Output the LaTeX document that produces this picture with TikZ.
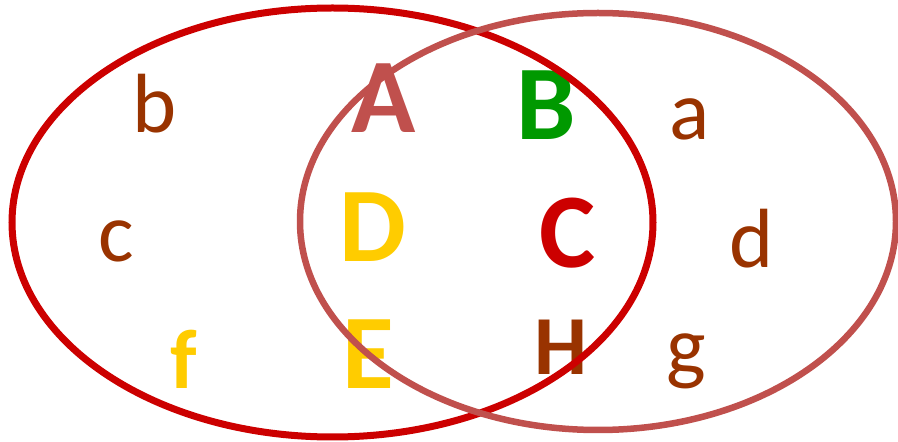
\documentclass[tikz,border=0pt]{standalone}
\usepackage{fontspec}
\setmainfont{Carlito}
\usepackage{xcolor}
\definecolor{setred}{HTML}{CC0000}
\definecolor{setrose}{HTML}{C0504D}
\definecolor{elbrown}{HTML}{993300}
\definecolor{elgreen}{HTML}{009900}
\definecolor{elyellow}{HTML}{FFCC00}
\tikzset{
  lowel/.style={anchor=base, inner sep=0pt, font=\fontsize{84}{84}\selectfont},
  capel/.style={anchor=base, inner sep=0pt, font=\fontsize{106}{106}\selectfont\bfseries},
  setline/.style={line width=6.5pt}
}
\newcommand{\vlow}[4]{\node[lowel, text=#4] (#1) at (#2,{442-#3}) {#1};}
\newcommand{\vcap}[4]{\node[capel, text=#4] (#1) at (#2,{442-#3}) {#1};}

\begin{document}
\begin{tikzpicture}[x=1pt, y=1pt]
\useasboundingbox (0,0) rectangle (898,442);
% elements, left set only
\vlow{b}{155}{133}{elbrown}
\vlow{c}{116}{262}{elbrown}
\node[lowel, text=elyellow, font=\fontsize{84}{84}\selectfont\bfseries] (f) at (184,{442-389}) {f};
% elements, both sets
\vcap{A}{384}{133}{setrose}
\vcap{D}{373}{262}{elyellow}
\vcap{E}{368}{389}{elyellow}
\vcap{B}{546}{140}{elgreen}
\vcap{C}{568}{268}{setred}
\node[capel, text=elbrown, font=\fontsize{84}{84}\selectfont\bfseries] (H) at (561,{442-375}) {H};
% elements, right set only
\vlow{a}{690}{140}{elbrown}
\vlow{d}{752}{268}{elbrown}
\vlow{g}{686}{375}{elbrown}
% the two sets
\draw[setline, setred, line width=7pt] (332.5,219.5) ellipse [x radius=320.5, y radius=214.5];
\draw[setline, setrose] (598,220.5) ellipse [x radius=298, y radius=208.5];
\end{tikzpicture}
\end{document}
